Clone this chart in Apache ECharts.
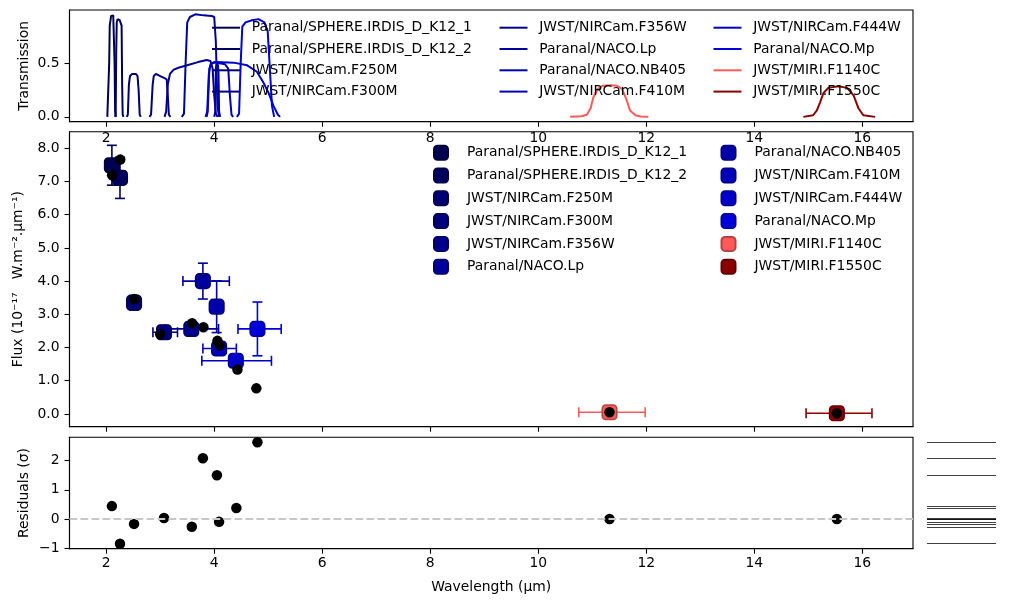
<!DOCTYPE html>
<html><head><meta charset="utf-8">
<script src="https://cdn.jsdelivr.net/npm/echarts@6/dist/echarts.min.js"></script>
<style>html,body{margin:0;padding:0;background:#fff}#c{width:1009px;height:606px}</style>
</head><body><div id="c"></div>
<script>
// ---------------- DATA ----------------
const filterNames = [
  'Paranal/SPHERE.IRDIS_D_K12_1','Paranal/SPHERE.IRDIS_D_K12_2','JWST/NIRCam.F250M','JWST/NIRCam.F300M',
  'JWST/NIRCam.F356W','Paranal/NACO.Lp','Paranal/NACO.NB405','JWST/NIRCam.F410M',
  'JWST/NIRCam.F444W','Paranal/NACO.Mp','JWST/MIRI.F1140C','JWST/MIRI.F1550C'
];
const filterColors = ['#000050','#00005f','#00006e','#00007d','#00008c','#00009c','#0000ab','#0000ba','#0000c9','#0000d8','#ff5a5a','#8b0000'];
const filterEdgeColors = ['#00003a','#000046','#000052','#00005e','#00006a','#000076','#000082','#00008e','#00009a','#0000a6','#b84242','#640000'];

// transmission curves [wavelength (um), transmission]
const trans_K12_1 = [[2.02,0],[2.045,0.01],[2.055,0.5],[2.065,0.85],[2.08,0.9],[2.09,0.94],[2.13,0.945],[2.145,0.93],[2.155,0.5],[2.165,0.05],[2.18,0]];
const trans_K12_2 = [[2.16,0],[2.175,0.02],[2.185,0.6],[2.195,0.88],[2.21,0.91],[2.25,0.9],[2.27,0.91],[2.285,0.85],[2.295,0.3],[2.305,0.02],[2.32,0]];
const trans_F250M = [[2.38,0],[2.40,0.02],[2.42,0.3],[2.44,0.38],[2.48,0.40],[2.55,0.40],[2.58,0.38],[2.60,0.25],[2.62,0.02],[2.64,0]];
const trans_F300M = [[2.80,0],[2.83,0.02],[2.86,0.3],[2.88,0.38],[2.92,0.40],[3.0,0.38],[3.08,0.36],[3.12,0.35],[3.14,0.2],[3.16,0.02],[3.19,0]];
const trans_F356W = [[3.08,0],[3.11,0.05],[3.14,0.3],[3.18,0.40],[3.25,0.44],[3.35,0.46],[3.5,0.48],[3.7,0.51],[3.86,0.53],[3.93,0.52],[3.97,0.45],[4.0,0.2],[4.03,0.03],[4.06,0]];
const trans_Lp    = [[3.40,0],[3.44,0.03],[3.47,0.5],[3.50,0.88],[3.55,0.93],[3.65,0.955],[3.8,0.945],[3.95,0.94],[4.0,0.93],[4.03,0.7],[4.06,0.1],[4.09,0]];
const trans_NB405 = [[4.00,0],[4.02,0.05],[4.03,0.45],[4.05,0.5],[4.07,0.48],[4.08,0.4],[4.09,0.05],[4.11,0]];
const trans_F410M = [[3.84,0],[3.87,0.05],[3.90,0.4],[3.93,0.49],[4.0,0.51],[4.1,0.5],[4.2,0.49],[4.26,0.45],[4.29,0.2],[4.32,0.02],[4.35,0]];
const trans_F444W = [[3.86,0],[3.88,0.05],[3.91,0.45],[3.96,0.5],[4.05,0.51],[4.36,0.505],[4.61,0.48],[4.79,0.42],[4.91,0.32],[5.0,0.23],[5.10,0.10],[5.18,0.02],[5.22,0]];
const trans_Mp    = [[4.42,0],[4.46,0.03],[4.49,0.5],[4.52,0.84],[4.58,0.88],[4.7,0.9],[4.82,0.91],[4.93,0.88],[4.99,0.8],[5.03,0.45],[5.07,0.1],[5.11,0]];
const trans_F1140C = [[10.59,0],[10.80,0.005],[10.90,0.02],[10.97,0.08],[11.02,0.18],[11.10,0.26],[11.2,0.29],[11.35,0.295],[11.46,0.29],[11.55,0.26],[11.62,0.18],[11.70,0.06],[11.8,0.015],[11.9,0.003],[12.04,0]];
const trans_F1550C = [[14.91,0],[15.09,0.015],[15.16,0.06],[15.22,0.135],[15.28,0.22],[15.37,0.27],[15.56,0.285],[15.72,0.27],[15.84,0.2],[15.93,0.08],[16.02,0.015],[16.24,0]];
const transCurves = [trans_K12_1,trans_K12_2,trans_F250M,trans_F300M,trans_F356W,trans_Lp,trans_NB405,trans_F410M,trans_F444W,trans_Mp,trans_F1140C,trans_F1550C];

// observed photometry
const obsWave      = [2.105, 2.255, 2.515, 3.07, 3.575, 3.79, 4.045, 4.09, 4.40, 4.80, 11.32, 15.53];
const obsFlux      = [7.49, 7.11, 3.35, 2.46, 2.56, 4.00, 3.23, 1.97, 1.60, 2.56, 0.05, 0.02];
const obsWaveErrLo = [0.05, 0.05, 0.09, 0.205, 0.485, 0.37, 0.03, 0.30, 0.63, 0.36, 0.57, 0.57];
const obsWaveErrHi = [0.05, 0.05, 0.09, 0.25, 0.505, 0.49, 0.03, 0.32, 0.66, 0.44, 0.66, 0.65];
const obsFluxErr   = [0.60, 0.62, 0.22, 0.20, 0.10, 0.54, 0.78, 0.10, 0.10, 0.81, 0.02, 0.02];

// model synthetic photometry
const modelWave = [2.11, 2.26, 2.52, 3.00, 3.59, 3.80, 4.06, 4.10, 4.43, 4.78, 11.32, 15.53];
const modelFlux = [7.19, 7.66, 3.46, 2.40, 2.73, 2.61, 2.20, 2.07, 1.34, 0.77, 0.05, 0.02];

// residuals (sigma)
const residWave = [2.105, 2.255, 2.515, 3.07, 3.585, 3.79, 4.05, 4.09, 4.41, 4.80, 11.32, 15.53];
const residVal  = [0.44, -0.85, -0.17, 0.03, -0.27, 2.08, 1.50, -0.10, 0.375, 2.63, 0.0, 0.0];

// ticks
const xTicks = [2, 4, 6, 8, 10, 12, 14, 16];
const transTicks = [0, 0.5];
const fluxTicks = [0, 1, 2, 3, 4, 5, 6, 7, 8];
const residTicks = [-1, 0, 1, 2];

// ---------------- CHART ----------------
const FONT = 'DejaVu Sans';
const FS = 13.9;
const chart = echarts.init(document.getElementById('c'), null, {renderer: 'canvas'});

const gridL = 69.5, gridR = 96;
const grids = [
  {left: gridL, right: gridR, top: 10, height: 111.7},
  {left: gridL, right: gridR, top: 131.7, height: 295},
  {left: gridL, right: gridR, top: 437.3, height: 111.4},
  {left: 927, width: 69, top: 437.3, height: 111.4}
].map((g, i) => Object.assign({containLabel: false, show: i < 3, borderColor: '#000', borderWidth: 1.1, backgroundColor: 'rgba(0,0,0,0)'}, g));

const tickStyle = {show: true, length: 5, lineStyle: {color: '#000', width: 1.1}};
const labelStyle = {color: '#000', fontFamily: FONT, fontSize: FS};

function xAx(gi, showLabels, margin) {
  return {
    type: 'value', gridIndex: gi, min: 1.32, max: 16.94,
    axisLine: {show: true, onZero: false, lineStyle: {color: '#000', width: 1.1}},
    splitLine: {show: false},
    axisTick: Object.assign({customValues: xTicks}, tickStyle),
    axisLabel: Object.assign({show: showLabels, customValues: xTicks, margin: margin, formatter: v => String(v)}, labelStyle)
  };
}
function yAx(gi, min, max, ticks, fmt, name, gap) {
  return {
    type: 'value', gridIndex: gi, min: min, max: max,
    axisLine: {show: true, onZero: false, lineStyle: {color: '#000', width: 1.1}},
    splitLine: {show: false},
    axisTick: Object.assign({customValues: ticks}, tickStyle),
    axisLabel: Object.assign({customValues: ticks, margin: 10, formatter: fmt}, labelStyle),
    name: name, nameLocation: 'middle', nameGap: gap, nameRotate: 90, nameMoveOverlap: false,
    nameTextStyle: {color: '#000', fontFamily: FONT, fontSize: FS}
  };
}

const xAxes = [
  xAx(0, true, 10),
  xAx(1, false, 8),
  Object.assign(xAx(2, true, 8), {name: 'Wavelength (μm)', nameLocation: 'middle', nameGap: 32, nameMoveOverlap: false,
    nameTextStyle: {color: '#000', fontFamily: FONT, fontSize: FS}}),
  {type: 'value', gridIndex: 3, min: 0, max: 1, show: false}
];
const yAxes = [
  yAx(0, -0.045, 0.995, transTicks, v => v.toFixed(1), 'Transmission', 38.5),
  yAx(1, -0.385, 8.50, fluxTicks, v => v.toFixed(1), 'Flux (10⁻¹⁷   W.m⁻².μm⁻¹)', 44.5),
  yAx(2, -1.02, 2.80, residTicks, v => String(v).replace('-', '−'), 'Residuals (σ)', 38.5),
  {type: 'value', gridIndex: 3, min: -1.02, max: 2.80, show: false}
];

const series = [];
// transmission curves
filterNames.forEach((n, i) => {
  series.push({
    type: 'line', name: 'T:' + n, xAxisIndex: 0, yAxisIndex: 0,
    data: transCurves[i], symbol: 'none', showSymbol: false,
    lineStyle: {color: filterColors[i], width: 2}, itemStyle: {color: filterColors[i]},
    z: 2, silent: true
  });
});
// error bars
series.push({
  type: 'custom', xAxisIndex: 1, yAxisIndex: 1, z: 2, silent: true,
  data: obsWave.map((w, i) => ({value: [w, obsFlux[i], obsWaveErrLo[i], obsWaveErrHi[i], obsFluxErr[i]], itemStyle: {color: filterColors[i]}})),
  encode: {x: 0, y: 1},
  renderItem: function (params, api) {
    const x = api.value(0), y = api.value(1), lo = api.value(2), hi = api.value(3), ye = api.value(4);
    const pL = api.coord([x - lo, y]), pR = api.coord([x + hi, y]);
    const pT = api.coord([x, y + ye]), pB = api.coord([x, y - ye]);
    const c = api.visual('color');
    const cap = 5;
    const st = () => ({stroke: c, lineWidth: 1.6, fill: null});
    const seg = (x1, y1, x2, y2) => ({type: 'line', shape: {x1, y1, x2, y2}, style: st()});
    return {type: 'group', children: [
      seg(pL[0], pL[1], pR[0], pR[1]),
      seg(pL[0], pL[1] - cap, pL[0], pL[1] + cap),
      seg(pR[0], pR[1] - cap, pR[0], pR[1] + cap),
      seg(pT[0], pT[1], pB[0], pB[1]),
      seg(pT[0] - cap, pT[1], pT[0] + cap, pT[1]),
      seg(pB[0] - cap, pB[1], pB[0] + cap, pB[1])
    ]};
  }
});
// observed squares
filterNames.forEach((n, i) => {
  series.push({
    type: 'scatter', name: n, xAxisIndex: 1, yAxisIndex: 1,
    data: [[obsWave[i], obsFlux[i]]], symbol: 'roundRect', symbolSize: 14.5,
    itemStyle: {color: filterColors[i], borderColor: filterEdgeColors[i], borderWidth: 1.6, opacity: 1},
    z: 3, silent: true
  });
});
// model dots
series.push({
  type: 'scatter', xAxisIndex: 1, yAxisIndex: 1, z: 4, silent: true,
  data: modelWave.map((w, i) => [w, modelFlux[i]]), symbol: 'circle', symbolSize: 10.5,
  itemStyle: {color: '#000', opacity: 1}
});
// residual dots
series.push({
  type: 'scatter', xAxisIndex: 2, yAxisIndex: 2, z: 3, silent: true,
  data: residWave.map((w, i) => [w, residVal[i]]), symbol: 'circle', symbolSize: 10.5,
  itemStyle: {color: '#000', opacity: 1}
});
// zero line
series.push({
  type: 'scatter', xAxisIndex: 2, yAxisIndex: 2, z: 6, silent: true, data: [],
  markLine: {silent: true, symbol: ['none', 'none'], label: {show: false}, animation: false,
    lineStyle: {color: '#c8c8c8', width: 2, type: [7.7, 3.3], opacity: 1}, data: [{yAxis: 0}]}
});
// marginal residual lines
series.push({
  type: 'scatter', xAxisIndex: 3, yAxisIndex: 3, z: 3, silent: true, data: [],
  markLine: {silent: true, symbol: ['none', 'none'], label: {show: false}, animation: false,
    lineStyle: {color: 'rgba(0,0,0,0.75)', width: 1, type: 'solid', opacity: 1}, data: residVal.map(v => ({yAxis: v}))}
});

const legTxt = (pad) => ({color: '#000', fontFamily: FONT, fontSize: FS, padding: [0, 0, 0, pad]});
function topLegend(left, names) {
  return {
    left: left, top: 20.7, orient: 'vertical', selectedMode: false,
    data: names.map(n => 'T:' + n), formatter: n => n.slice(2),
    icon: 'rect', itemWidth: 28, itemHeight: 2, itemGap: 7.3,
    textStyle: legTxt(6.7), padding: 0
  };
}
function midLegend(left, names) {
  return {
    left: left, top: 144.7, orient: 'vertical', selectedMode: false,
    data: names, icon: 'roundRect', itemWidth: 14, itemHeight: 14, itemGap: 6.8,
    textStyle: legTxt(14), padding: 0
  };
}

chart.setOption({
  animation: false,
  backgroundColor: '#fff',
  grid: grids,
  xAxis: xAxes,
  yAxis: yAxes,
  legend: [
    topLegend(212, filterNames.slice(0, 4)),
    topLegend(499.5, filterNames.slice(4, 8)),
    topLegend(713.5, filterNames.slice(8, 12)),
    midLegend(433, filterNames.slice(0, 6)),
    midLegend(720.5, filterNames.slice(6, 12))
  ],
  series: series
});
</script></body></html>
